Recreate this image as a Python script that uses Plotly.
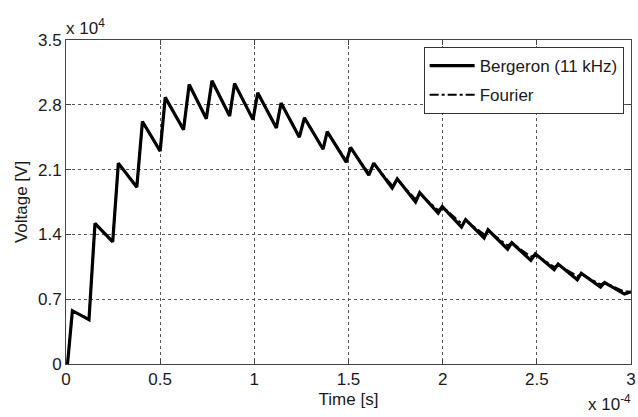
import plotly.graph_objects as go

# Time in units of 1e-4 s, voltage in units of 1e4 V (as shown on the axes)
berg_t = [0, 0.008, 0.034, 0.122, 0.154, 0.248, 0.278, 0.376, 0.406, 0.500, 0.527, 0.624, 0.654,
          0.745, 0.775, 0.869, 0.895, 0.993, 1.018, 1.117, 1.142, 1.239, 1.266, 1.365, 1.387,
          1.488, 1.511, 1.608, 1.634, 1.732, 1.759, 1.856, 1.878, 1.976, 1.998, 2.100, 2.122,
          2.220, 2.241, 2.345, 2.367, 2.468, 2.492, 2.592, 2.613, 2.715, 2.736, 2.838, 2.860,
          2.965, 3.0]
berg_v = [0, 0, 0.576, 0.48, 1.52, 1.32, 2.17, 1.91, 2.62, 2.30, 2.88, 2.53, 3.02,
          2.65, 3.06, 2.68, 3.03, 2.64, 2.93, 2.55, 2.82, 2.45, 2.66, 2.32, 2.51,
          2.18, 2.34, 2.04, 2.17, 1.90, 2.00, 1.75, 1.85, 1.63, 1.70, 1.48, 1.56,
          1.36, 1.45, 1.24, 1.31, 1.12, 1.19, 1.02, 1.08, 0.91, 0.98, 0.83, 0.88,
          0.756, 0.78]

four_t = [0, 0.008, 0.034, 0.122, 0.154, 0.248, 0.278, 0.376, 0.406, 0.500, 0.527, 0.624, 0.654,
          0.745, 0.775, 0.869, 0.895, 0.993, 1.018, 1.117, 1.142, 1.239, 1.266, 1.365, 1.387,
          1.488, 1.511, 1.608, 1.634, 1.732, 1.759, 1.856, 1.878, 1.976, 1.998, 2.100, 2.122,
          2.220, 2.241, 2.345, 2.367, 2.468, 2.492, 2.592, 2.613, 2.715, 2.736, 2.838, 2.860,
          2.965, 3.0]
four_v = [0, 0, 0.57, 0.49, 1.51, 1.33, 2.16, 1.92, 2.61, 2.31, 2.87, 2.54, 3.01,
          2.66, 3.05, 2.69, 3.02, 2.65, 2.92, 2.56, 2.81, 2.46, 2.65, 2.33, 2.50,
          2.20, 2.33, 2.06, 2.16, 1.93, 1.99, 1.78, 1.84, 1.66, 1.70, 1.52, 1.55,
          1.40, 1.44, 1.28, 1.31, 1.16, 1.18, 1.05, 1.07, 0.95, 0.97, 0.86, 0.88,
          0.78, 0.79]

x_ticks = [0, 0.5, 1, 1.5, 2, 2.5, 3]
y_ticks = [0, 0.7, 1.4, 2.1, 2.8, 3.5]

FONT = "Liberation Sans, Arial, sans-serif"
TXT = "#1a1a1a"

fig = go.Figure()
fig.add_trace(go.Scatter(x=berg_t, y=berg_v, mode="lines", name="Bergeron (11 kHz)",
                         line=dict(color="black", width=3.2), legendgroup="a"))
fig.add_trace(go.Scatter(x=four_t, y=four_v, mode="lines", name="Fourier",
                         line=dict(color="black", width=2, dash="dashdot"), legendgroup="b"))

axis_common = dict(showline=True, linecolor="#444", linewidth=1, mirror="ticks",
                   ticks="inside", ticklen=5, tickcolor="#444", showgrid=True,
                   gridcolor="#555", gridwidth=1, griddash="dot", zeroline=False,
                   automargin=False,
                   tickfont=dict(family=FONT, size=17, color=TXT))

fig.update_xaxes(range=[0, 3], tickvals=x_ticks,
                 ticktext=[f"{v:g}" for v in x_ticks],
                 title=dict(text="Time [s]", font=dict(family=FONT, size=17, color=TXT), standoff=4),
                 **axis_common)
fig.update_yaxes(range=[0, 3.5], tickvals=y_ticks,
                 ticktext=[f"{v:g}" for v in y_ticks],
                 title=dict(text="Voltage [V]", font=dict(family=FONT, size=17, color=TXT), standoff=6),
                 **axis_common)

fig.add_annotation(text="x 10<sup>4</sup>", xref="paper", yref="paper", x=0.0, y=1.0,
                   xanchor="left", yanchor="bottom", showarrow=False, xshift=-2, yshift=0,
                   font=dict(family=FONT, size=17, color=TXT))
fig.add_annotation(text="x 10<sup>-4</sup>", xref="paper", yref="paper", x=1.0, y=0.0,
                   xanchor="right", yanchor="top", showarrow=False, xshift=2, yshift=-26,
                   font=dict(family=FONT, size=17, color=TXT))

fig.update_layout(
    width=638, height=417,
    margin=dict(l=66, r=7, t=40, b=53),
    paper_bgcolor="white", plot_bgcolor="white",
    showlegend=True,
    legend=dict(x=0.987, y=0.978, xanchor="right", yanchor="top",
                bgcolor="white", bordercolor="#333", borderwidth=1,
                font=dict(family=FONT, size=17, color=TXT),
                itemwidth=45,
                traceorder="grouped", tracegroupgap=4),
)

fig.write_html("out.html", config={"displayModeBar": False},
               post_script="document.body.style.margin='0px';document.body.style.padding='0px';")
